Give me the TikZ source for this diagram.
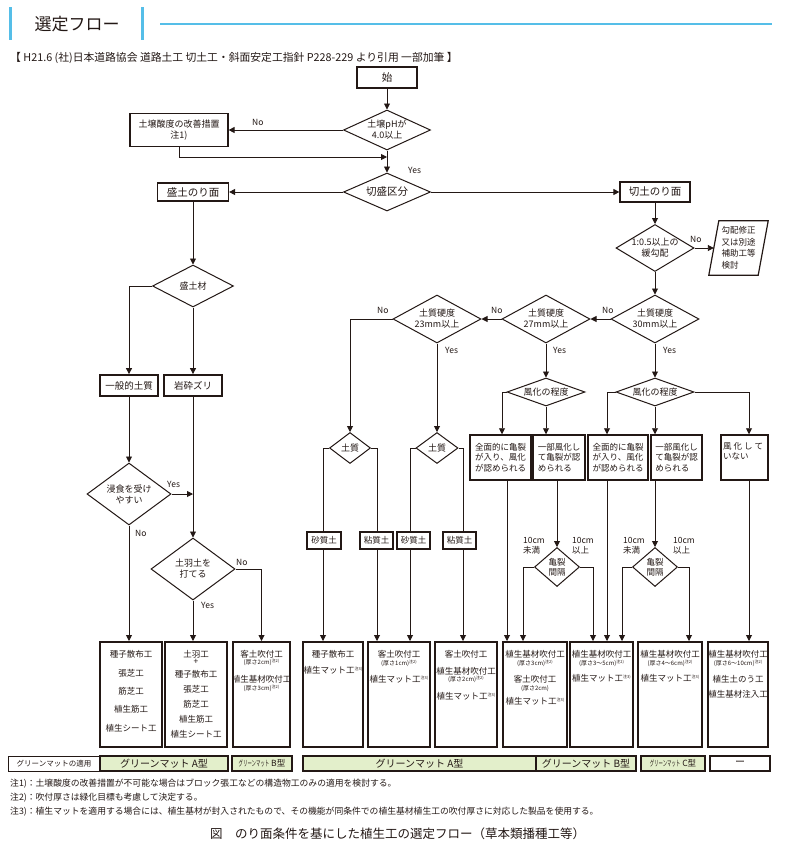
\documentclass[tikz,border=0pt]{standalone}
\usepackage{fontspec}
\usepackage{graphicx}
\setmainfont{Noto Sans CJK JP}
\usetikzlibrary{arrows.meta,shapes.geometric}
\definecolor{ink}{HTML}{231815}
\definecolor{barblue}{HTML}{55BEE8}
\definecolor{matgreen}{HTML}{E3EFCB}
\newcommand{\fsz}[2]{\fontsize{#1}{#2}\selectfont}
\newcommand{\atsu}[1]{{\fontsize{6}{6}\selectfont #1}}
\newcommand{\chunote}[1]{\raisebox{2pt}{\fontsize{4}{4}\selectfont 注#1)}}
\newcommand{\chunoteb}[1]{\raisebox{3.5pt}{\fontsize{4}{4}\selectfont 注#1)}}
\newcommand{\smallmat}{\scalebox{0.55}[1]{\fontsize{8}{8}\selectfont グリーンマット}}
\begin{document}
\begin{tikzpicture}[x=1pt,y=-1pt,
  every node/.style={text=ink},
  ln/.style={draw=ink,line width=0.9pt},
  arr/.style={ln,-{Triangle[length=6pt,width=6pt]}},
  dia/.style={diamond,draw=ink,line width=1pt,inner sep=0pt},
  dtxt/.style={align=center,inner sep=0pt,font=\fsz{9}{11}},
  sbox/.style={draw=ink,line width=1.2pt,inner sep=0pt,align=center},
  wbox/.style={draw=ink,line width=1.5pt,inner sep=0pt,minimum height=45pt},
  mbox/.style={draw=ink,line width=1.8pt,inner sep=0pt,align=center,minimum height=21pt,minimum width=58pt,font=\fsz{9.5}{11}},
  fbox/.style={draw=ink,line width=2pt,inner sep=0pt,minimum height=105pt},
  btxt/.style={align=center,inner sep=0pt,anchor=north,font=\fsz{8.5}{9}},
  lbl/.style={inner sep=0pt,anchor=west,font=\fsz{8.5}{9}},
  cell/.style={draw=ink,line width=1.2pt,inner sep=0pt,minimum height=15pt,fill=matgreen},
]
\fill[white] (0,0) rectangle (800,865);
\useasboundingbox (0,0) rectangle (800,865);

% ---------- header ----------
\draw[barblue,line width=3pt] (10,7) -- (10,40);
\draw[barblue,line width=3pt] (142,7) -- (142,40);
\draw[barblue,line width=1.5pt] (160,24) -- (772,24);
\node[font=\fsz{17}{20}] (title) at (77,24) {選定フロー};
\node[anchor=west,inner sep=0pt,font=\fsz{10.8}{12}] (src) at (10,58) {【 H21.6 (社)日本道路協会 道路土工 切土工・斜面安定工指針 P228-229 より引用 一部加筆 】};

% ---------- top ----------
\node[sbox,minimum width=60pt,minimum height=21pt,font=\fsz{10.5}{12}] (start) at (387,77.5) {始};
\node[dia,minimum width=87pt,minimum height=40pt] (dph) at (387,130) {};
\node[dtxt] (tph) at (dph) {土壌pHが\\4.0以上};
\node[sbox,minimum width=98pt,minimum height=33pt,font=\fsz{9}{11}] (bacid) at (179,130) {土壌酸度の改善措置\\注1)};
\coordinate (j1) at (387,157);
\node[dia,minimum width=87pt,minimum height=38pt] (dkiri) at (387,192) {};
\node[dtxt,font=\fsz{10.5}{12}] (tkiri) at (dkiri) {切盛区分};
\node[sbox,minimum width=71pt,minimum height=18pt,font=\fsz{10.5}{12}] (bmori) at (193,192) {盛土のり面};
\node[sbox,minimum width=70pt,minimum height=20pt,font=\fsz{10.5}{12}] (bkiri) at (655,192) {切土のり面};
\draw[arr] (start) -- (dph);
\draw[arr] (dph.west) -- (bacid.east);
\draw[arr] (bacid.south) |- (j1);
\draw[arr] (dph.south) -- (dkiri.north);
\draw[arr] (dkiri.west) -- (bmori.east);
\draw[arr] (dkiri.east) -- (bkiri.west);
\node[lbl] (lno1) at (252,122) {No};
\node[lbl] (lyes1) at (408,170) {Yes};

% ---------- left branch ----------
\node[dia,minimum width=81pt,minimum height=42pt] (dmz) at (193,286) {};
\node[dtxt] (tmz) at (dmz) {盛土材};
\node[mbox] (bippan) at (129,385.5) {一般的土質};
\node[mbox] (bganzai) at (193,385.5) {岩砕ズリ};
\node[dia,minimum width=84pt,minimum height=62pt] (dshin) at (129,494) {};
\node[dtxt] (tshin) at (dshin) {浸食を受け\\やすい};
\node[dia,minimum width=84pt,minimum height=62pt] (dtoba) at (193,569) {};
\node[dtxt] (ttoba) at (dtoba) {土羽土を\\打てる};
\draw[arr] (bmori.south) -- (dmz.north);
\draw[arr] (dmz.west) -| (bippan.north);
\draw[arr] (dmz.south) -- (bganzai.north);
\draw[arr] (bippan.south) -- (dshin.north);
\draw[arr] (bganzai.south) -- (dtoba.north);
\draw[arr] (dshin.east) -- (dshin.east -| bganzai.south);
\node[lbl] (lyes2) at (167,484) {Yes};
\node[lbl] (lno2) at (135,533) {No};
\node[lbl] (lno3) at (236,562) {No};
\node[lbl] (lyes3) at (201,605) {Yes};

% ---------- right branch ----------
\node[dia,minimum width=78pt,minimum height=47pt] (dkou) at (655,248) {};
\node[dtxt] (tkou) at (dkou) {1:0.5以上の\\緩勾配};
\node[inner sep=0pt,minimum width=49pt,minimum height=54pt,align=left,font=\fsz{8.5}{11.5}] (para) at (738.5,248) {勾配修正\\又は別途\\補助工等\\検討};
\draw[ln,line width=1.2pt] ([xshift=5pt]para.north west) -- ([xshift=5pt]para.north east) -- ([xshift=-5pt]para.south east) -- ([xshift=-5pt]para.south west) -- cycle;
\draw[arr] (bkiri.south) -- (dkou.north);
\draw[arr] (dkou.east) -- (para.west);
\node[lbl] (lno4) at (690,239) {No};

\node[dia,minimum width=88pt,minimum height=48pt] (d30) at (655,319) {};
\node[dtxt] (t30) at (d30) {土質硬度\\30mm以上};
\node[dia,minimum width=88pt,minimum height=48pt] (d27) at (546,319) {};
\node[dtxt] (t27) at (d27) {土質硬度\\27mm以上};
\node[dia,minimum width=88pt,minimum height=48pt] (d23) at (437,319) {};
\node[dtxt] (t23) at (d23) {土質硬度\\23mm以上};
\draw[arr] (dkou.south) -- (d30.north);
\draw[arr] (d30.west) -- (d27.east);
\draw[arr] (d27.west) -- (d23.east);
\node[lbl] (lno5) at (602,310) {No};
\node[lbl] (lno6) at (491,310) {No};
\node[lbl] (lno7) at (377,310) {No};
\node[lbl] (lyes4) at (445,350) {Yes};
\node[lbl] (lyes5) at (553,350) {Yes};
\node[lbl] (lyes6) at (663,350) {Yes};

% soil diamonds
\node[dia,minimum width=41pt,minimum height=31pt] (do1) at (350,448) {};
\node[dtxt] (tdo1) at (do1) {土質};
\node[dia,minimum width=42pt,minimum height=31pt] (do2) at (437,448) {};
\node[dtxt] (tdo2) at (do2) {土質};
\draw[arr] (d23.west) -| (do1.north);
\draw[arr] (d23.south) -- (do2.north);
\node[sbox,minimum width=34pt,minimum height=17pt,font=\fsz{8.5}{10}] (sand1) at (324,540.5) {砂質土};
\node[sbox,minimum width=33pt,minimum height=17pt,font=\fsz{8.5}{10}] (clay1) at (376.5,540.5) {粘質土};
\node[sbox,minimum width=33pt,minimum height=17pt,font=\fsz{8.5}{10}] (sand2) at (413.5,540.5) {砂質土};
\node[sbox,minimum width=33pt,minimum height=17pt,font=\fsz{8.5}{10}] (clay2) at (459.5,540.5) {粘質土};
\draw[ln] (do1.west) -| ([xshift=-1pt]sand1.north);
\draw[ln] (do1.east) -| ([xshift=0.5pt]clay1.north);
\draw[ln] (do2.west) -| ([xshift=-3.5pt]sand2.north);
\draw[ln] (do2.east) -| ([xshift=3.5pt]clay2.north);

% weathering
\node[dia,minimum width=78pt,minimum height=28pt] (fu1) at (546,392) {};
\node[dtxt] (tfu1) at (fu1) {風化の程度};
\node[dia,minimum width=78pt,minimum height=28pt] (fu2) at (655,392) {};
\node[dtxt] (tfu2) at (fu2) {風化の程度};
\draw[arr] (d27.south) -- (fu1.north);
\draw[arr] (d30.south) -- (fu2.north);
\node[wbox,minimum width=61pt,align=center,font=\fsz{8.5}{10.5}] (w1) at (500.5,457.5) {全面的に亀裂\\が入り、風化\\が認められる};
\node[wbox,minimum width=52pt,align=left,font=\fsz{8.5}{10.5}] (w2) at (559,457.5) {一部風化し\\て亀裂が認\\められる};
\node[wbox,minimum width=60pt,align=center,font=\fsz{8.5}{10.5}] (w3) at (618,457.5) {全面的に亀裂\\が入り、風化\\が認められる};
\node[wbox,minimum width=51pt,align=left,font=\fsz{8.5}{10.5}] (w4) at (676.5,457.5) {一部風化し\\て亀裂が認\\められる};
\node[wbox,minimum width=47pt] (w5) at (744.5,457.5) {};
\node[anchor=north west,inner sep=0pt,align=left,font=\fsz{8.5}{10.5}] (tw5) at (723,442) {\makebox[40pt][s]{風\hfill 化\hfill し\hfill て}\\いない};
\draw[arr] (fu1.west) -| ([xshift=1.5pt]w1.north);
\draw[arr] (fu1.south) -- (fu1.south |- w2.north);
\draw[arr] (fu2.west) -| ([xshift=-11pt]w3.north);
\draw[arr] (fu2.south) -- (fu2.south |- w4.north);
\draw[arr] (fu2.east) -| ([xshift=4.5pt]w5.north);

% crack spacing
\node[dia,minimum width=45pt,minimum height=39pt] (ki1) at (557,567) {};
\node[dtxt,font=\fsz{8.5}{10}] (tki1) at (ki1) {亀裂\\間隔};
\node[dia,minimum width=45pt,minimum height=39pt] (ki2) at (655,567) {};
\node[dtxt,font=\fsz{8.5}{10}] (tki2) at (ki2) {亀裂\\間隔};
\draw[arr] (ki1.north |- w2.south) -- (ki1.north);
\draw[arr] (ki2.north |- w4.south) -- (ki2.north);
\node[lbl,anchor=north west,align=left,font=\fsz{8.5}{10}] (l10a) at (523,537) {10cm\\未満};
\node[lbl,anchor=north west,align=left,font=\fsz{8.5}{10}] (l10b) at (572,537) {10cm\\以上};
\node[lbl,anchor=north west,align=left,font=\fsz{8.5}{10}] (l10c) at (623,537) {10cm\\未満};
\node[lbl,anchor=north west,align=left,font=\fsz{8.5}{10}] (l10d) at (673,537) {10cm\\以上};

% ---------- bottom boxes ----------
\node[fbox,minimum width=62pt] (B1) at (131,694.5) {};
\node[fbox,minimum width=62pt] (B2) at (196,694.5) {};
\node[fbox,minimum width=57pt] (B3) at (261.5,694.5) {};
\node[fbox,minimum width=60pt] (B4) at (333,694.5) {};
\node[fbox,minimum width=62pt] (B5) at (399,694.5) {};
\node[fbox,minimum width=62pt] (B6) at (466,694.5) {};
\node[fbox,minimum width=64pt] (B7) at (535,694.5) {};
\node[fbox,minimum width=63pt] (B8) at (601.5,694.5) {};
\node[fbox,minimum width=64pt] (B9) at (670,694.5) {};
\node[fbox,minimum width=60pt] (B10) at (738,694.5) {};

\node[btxt] (tB1) at (131,650.5) {種子散布工\\[9.3pt]張芝工\\[9.3pt]筋芝工\\[9.3pt]植生筋工\\[9.3pt]植生シート工};
\node[btxt] (tB2) at (196,650.5) {土羽工\\[-2pt]+\\[4pt]種子散布工\\[6pt]張芝工\\[6pt]筋芝工\\[6pt]植生筋工\\[6pt]植生シート工};
\node[btxt] (tB3) at (261.5,650.5) {客土吹付工\\[-1.9pt]\atsu{(厚さ2cm)}\chunote{2}\\[8.9pt]植生基材吹付工\\[-0.9pt]\atsu{(厚さ3cm)}\chunote{2}};
\node[btxt] (tB4) at (333,650.5) {種子散布工\\[7pt]植生マット工\chunoteb{3}};
\node[btxt] (tB5) at (399,650.5) {客土吹付工\\[-0.9pt]\atsu{(厚さ1cm)}\chunote{2}\\[7.9pt]植生マット工\chunoteb{3}};
\node[btxt] (tB6) at (466,650.5) {客土吹付工\\[8pt]植生基材吹付工\\[-1.9pt]\atsu{(厚さ2cm)}\chunote{2}\\[8.9pt]植生マット工\chunoteb{3}};
\node[btxt] (tB7) at (535,650.5) {植生基材吹付工\\[-0.9pt]\atsu{(厚さ3cm)}\chunote{2}\\[7.9pt]客土吹付工\\[-0.9pt]\atsu{(厚さ2cm)}\\[4.9pt]植生マット工\chunoteb{3}};
\node[btxt] (tB8) at (601.5,650.5) {植生基材吹付工\\[-0.9pt]\atsu{(厚さ3〜5cm)}\chunote{2}\\[6.9pt]植生マット工\chunoteb{3}};
\node[btxt] (tB9) at (670,650.5) {植生基材吹付工\\[-0.9pt]\atsu{(厚さ4〜6cm)}\chunote{2}\\[6.9pt]植生マット工\chunoteb{3}};
\node[btxt] (tB10) at (738,650.5) {植生基材吹付工\\[-0.9pt]\atsu{(厚さ6〜10cm)}\chunote{2}\\[7.9pt]植生土のう工\\[6pt]植生基材注入工};

% connectors into bottom boxes
\draw[arr] (dshin.south) -- (dshin.south |- B1.north);
\draw[arr] (dtoba.south) -- (dtoba.south |- B2.north);
\draw[arr] (dtoba.east) -| (B3.north);
\draw[arr] ([xshift=-1pt]sand1.south) -- ([xshift=-1pt]sand1.south |- B4.north);
\draw[arr] ([xshift=0.5pt]clay1.south) -- ([xshift=0.5pt]clay1.south |- B5.north);
\draw[arr] ([xshift=-3.5pt]sand2.south) -- ([xshift=-3.5pt]sand2.south |- B5.north);
\draw[arr] ([xshift=3.5pt]clay2.south) -- ([xshift=3.5pt]clay2.south |- B6.north);
\draw[arr] ([xshift=6.5pt]w1.south) -- ([xshift=6.5pt]w1.south |- B7.north);
\draw[arr] (ki1.west) -| ([xshift=-12pt]B7.north);
\draw[arr] (ki1.east) -| ([xshift=-8.5pt]B8.north);
\draw[arr] ([xshift=-11pt]w3.south) -- ([xshift=-11pt]w3.south |- B8.north);
\draw[arr] (ki2.west) -| ([xshift=20.5pt]B8.north);
\draw[arr] (ki2.east) -| ([xshift=19pt]B9.north);
\draw[arr] ([xshift=4.5pt]w5.south) -- ([xshift=4.5pt]w5.south |- B10.north);

% ---------- green mat row ----------
\node[cell,fill=white,line width=0.8pt,minimum width=92pt,font=\fsz{7.5}{8}] (c0) at (54,763.5) {グリーンマットの適用};
\node[cell,minimum width=128pt,font=\fsz{10}{11}] (c1) at (164,763.5) {グリーンマット A型};
\node[cell,minimum width=60pt,font=\fsz{8.5}{9}] (c2) at (262,763.5) {\smallmat\ B型};
\node[cell,minimum width=233pt,font=\fsz{10}{11}] (c3) at (419.5,763.5) {グリーンマット A型};
\node[cell,minimum width=100pt,font=\fsz{10}{11}] (c4) at (586,763.5) {グリーンマット B型};
\node[cell,minimum width=64pt,font=\fsz{8.5}{9}] (c5) at (673,763.5) {\smallmat\ C型};
\node[cell,fill=white,minimum width=60pt,font=\fsz{10}{11}] (c6) at (740,763.5) {ー};

% ---------- notes ----------
\node[anchor=west,inner sep=0pt,font=\fsz{8.8}{9}] (n1) at (10,784) {注1)：土壌酸度の改善措置が不可能な場合はブロック張工などの構造物工のみの適用を検討する。};
\node[anchor=west,inner sep=0pt,font=\fsz{8.8}{9}] (n2) at (10,798) {注2)：吹付厚さは緑化目標も考慮して決定する。};
\node[anchor=west,inner sep=0pt,font=\fsz{8.8}{9}] (n3) at (10,812) {注3)：植生マットを適用する場合には、植生基材が封入されたもので、その機能が同条件での植生基材植生工の吹付厚さに対応した製品を使用する。};
\node[font=\fsz{12.5}{14}] (cap) at (397.5,834) {図　のり面条件を基にした植生工の選定フロー（草本類播種工等）};
\end{tikzpicture}
\end{document}
